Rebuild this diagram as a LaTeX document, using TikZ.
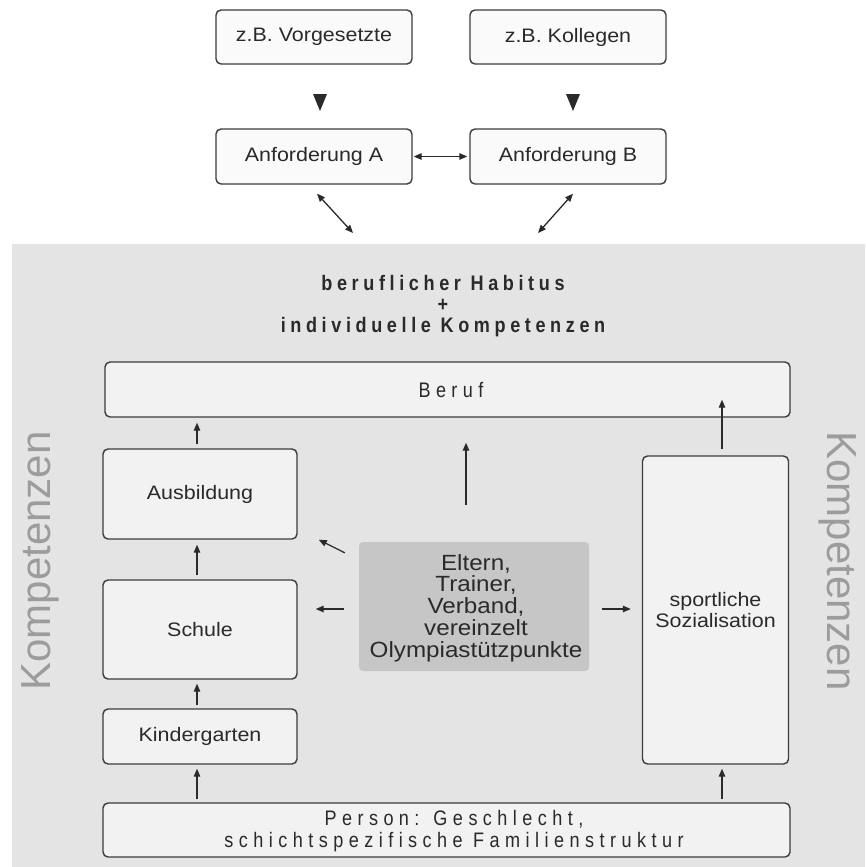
\documentclass[tikz,border=0pt]{standalone}
\usepackage{fontspec}
\setmainfont{Liberation Sans}
\newfontfamily\boxfont[FakeStretch=1.1]{Liberation Sans}
\newfontfamily\spacedfont[FakeStretch=0.86,LetterSpace=26]{Liberation Sans}
\newfontfamily\titlefont[FakeStretch=0.86,LetterSpace=22]{Liberation Sans Bold}
\usetikzlibrary{arrows.meta,calc}
\definecolor{bggray}{HTML}{E4E4E4}
\definecolor{boxfill}{HTML}{F2F2F2}
\definecolor{topfill}{HTML}{FAFAFA}
\definecolor{boxline}{HTML}{3C3C3C}
\definecolor{hubfill}{HTML}{C6C6C6}
\definecolor{txt}{HTML}{2A2A2A}
\definecolor{komp}{HTML}{9C9C9C}
\tikzset{
  box/.style={draw=boxline, line width=1.4pt, rounded corners=5pt, fill=boxfill,
    inner sep=0pt, align=center, text=txt,
    font=\boxfont\fontsize{19.5}{21}\selectfont},
  topbox/.style={box, fill=topfill},
  hub/.style={fill=hubfill, rounded corners=4pt, inner sep=0pt, align=center,
    text=txt, font=\boxfont\fontsize{22}{21.7}\selectfont},
  arr/.style={line width=1.3pt, draw=txt, -{Triangle[length=8pt,width=6.5pt]}},
  dbl/.style={line width=1.3pt, draw=txt, {Triangle[length=8pt,width=6.5pt]}-{Triangle[length=8pt,width=6.5pt]}},
  komptext/.style={text=komp, font=\fontsize{42}{42}\selectfont, inner sep=0pt},
  spaced/.style={text=txt, align=center, inner sep=0pt, font=\spacedfont\fontsize{21}{21.5}\selectfont}
}
\begin{document}
\begin{tikzpicture}[x=1pt,y=-1pt]
\useasboundingbox (0,0) rectangle (865,867);

% shaded field for habitus and competences
\fill[bggray] (12,244) rectangle (865,867);

% outside requirements
\node[topbox, minimum width=196pt, minimum height=54pt] (vorg) at (314,37) {z.B. Vorgesetzte};
\node[topbox, minimum width=196pt, minimum height=54pt] (koll) at (568,37) {z.B. Kollegen};
\node[topbox, minimum width=196pt, minimum height=55pt] (anfA) at (314,156.5) {Anforderung A};
\node[topbox, minimum width=196pt, minimum height=55pt] (anfB) at (568,156.5) {Anforderung B};

% downward markers below the upper boxes
\fill[txt] (313,94) -- (327,94) -- (320,111) -- cycle;
\fill[txt] (566,94) -- (580,94) -- (573,111) -- cycle;

\draw[dbl, shorten <=1pt, shorten >=2pt] (anfA.east) -- (anfB.west);
\coordinate (linkA) at (353,233);
\coordinate (linkB) at (538,233);
\draw[dbl] ($(anfA.south)+(3,9)$) -- (linkA);
\draw[dbl] ($(anfB.south)+(5,9)$) -- (linkB);

% heading
\node[align=center, text=txt, inner sep=0pt, font=\titlefont\fontsize{21}{21}\selectfont] (title) at (443,306)
  {beruflicher Habitus\\+\\individuelle Kompetenzen};

% side labels
\node[komptext, rotate=90] (kompL) at (40,561) {Kompetenzen};
\node[komptext, rotate=-90] (kompR) at (838,561) {Kompetenzen};

% career path
\node[box, minimum width=685pt, minimum height=55pt] (beruf) at (447.5,389.5) {};
\node[spaced] (beruftxt) at (451,390) {Beruf};
\node[box, minimum width=194pt, minimum height=90pt] (ausb) at (200,494) {Ausbildung};
\node[box, minimum width=194pt, minimum height=99pt] (schule) at (200,629.5) {Schule};
\node[box, minimum width=194pt, minimum height=55pt] (kinder) at (200,736.5) {Kindergarten};
\node[box, minimum width=146pt, minimum height=308pt] (soz) at (715.5,610) {sportliche\\Sozialisation};
\node[box, minimum width=687pt, minimum height=54pt] (person) at (446.5,830) {};
\node[spaced] (persontxt) at (454,831) {Person: Geschlecht,\\schichtspezifische Familienstruktur};

% supporting actors
\node[hub, minimum width=230pt, minimum height=129pt] (hub) at (474,606.5) {};
\node[hub, fill=none] (hubtxt) at (476,608) {Eltern,\\Trainer,\\Verband,\\vereinzelt\\Olympiastützpunkte};

% upward flow on the left
\draw[arr, shorten <=4pt, shorten >=5pt] ([xshift=-3pt]ausb.north) -- ([xshift=-3pt]ausb.north |- beruf.south);
\draw[arr, shorten <=4pt, shorten >=5pt] ([xshift=-3pt]schule.north) -- ([xshift=-3pt]schule.north |- ausb.south);
\draw[arr, shorten <=3pt, shorten >=4pt] ([xshift=-3pt]kinder.north) -- ([xshift=-3pt]kinder.north |- schule.south);
\draw[arr, shorten <=3pt, shorten >=4pt] ([xshift=-3pt]person.north -| kinder.north) -- ([xshift=-3pt]kinder.south);

% upward flow on the right
\draw[arr, shorten <=3pt, shorten >=4pt] ([xshift=6.5pt]person.north -| soz.south) -- ([xshift=6.5pt]soz.south);
\draw[arr, shorten <=6pt, shorten >=-18pt] ([xshift=6.5pt]soz.north) -- ([xshift=6.5pt]soz.north |- beruf.south);

% influences of the supporting actors
\draw[arr] ($(hub.north)+(-8,-37)$) -- ($(hub.north |- beruf.south)+(-8,25)$);
\draw[arr] ($(hub.north west)+(-14,11)$) -- ($(ausb.south east)+(21,0)$);
\draw[arr] ($(hub.west)+(-15,2.5)$) -- ($(schule.east |- hub.west)+(18,2.5)$);
\draw[arr] ($(hub.east)+(13,2.5)$) -- ($(soz.west |- hub.east)+(-11,2.5)$);
\end{tikzpicture}
\end{document}
